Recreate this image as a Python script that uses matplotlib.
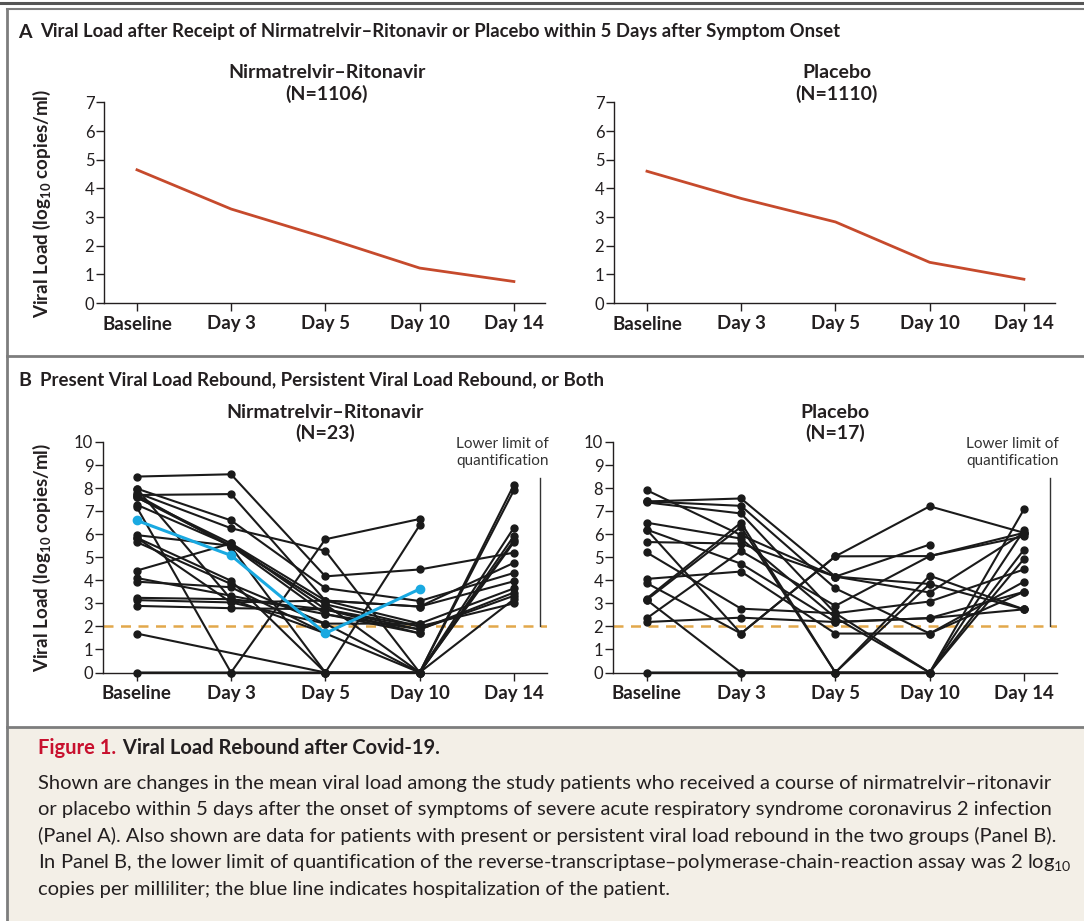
import numpy as np
import matplotlib
matplotlib.use("Agg")
import matplotlib.pyplot as plt
from matplotlib.lines import Line2D
from matplotlib.patches import Rectangle

plt.rcParams['font.family'] = ['Lato', 'DejaVu Sans']
plt.rcParams['mathtext.fontset'] = 'custom'
plt.rcParams['mathtext.rm'] = 'Lato'
plt.rcParams['mathtext.bf'] = 'Lato:bold'

W, H = 1084, 921

days = ["Baseline", "Day 3", "Day 5", "Day 10", "Day 14"]
nan = np.nan

# panel A: mean viral load
nr_mean = [4.65, 3.28, 2.28, 1.22, 0.75]
pl_mean = [4.6, 3.65, 2.83, 1.42, 0.83]

# panel B: individual patients
nr_patients = [
    [8.5, 8.6, 4.17, 4.47, 5.2],
    [7.7, 7.74, 3.12, 2.86, 4.76],
    [7.98, 6.6, 3.66, 3.1, 4.32],
    [7.8, 6.26, 5.28, 0, 7.91],
    [7.6, 5.6, 2.74, 1.87, 3.33],
    [7.28, 5.5, 2.53, 1.7, nan],
    [7.18, 0, 5.78, 6.66, nan],
    [5.96, 5.5, 2.96, 0, 5.93],
    [5.85, 3.98, 0, 6.39, nan],
    [5.66, 3.84, 2.12, 0, 5.74],
    [7.7, 5.45, 0, 0, 8.15],
    [4.42, 5.6, 3.12, 2.12, 3.65],
    [4.1, 3.33, 2.53, 1.87, 3.47],
    [3.94, 3.7, 1.7, 0, 6.29],
    [3.24, 3.18, 2.74, 2.0, 3.0],
    [3.14, 3.04, 3.12, 2.86, 3.96],
    [2.89, 2.79, 2.74, 1.7, nan],
    [1.69, nan, 0, 0, 3.18],
    [0, 0, 0, 0, 5.66],
    [7.6, 5.5, 2.96, 2.0, nan],
    [7.98, 3.18, 1.7, nan, nan],
    [5.85, 3.04, 2.12, 2.12, nan],
]
nr_hospitalized = [6.6, 5.08, 1.7, 3.62, nan]

pl_patients = [
    [7.91, 5.96, 4.16, 3.84, 2.74],
    [7.42, 7.55, 4.16, 3.47, 6.06],
    [7.42, 7.23, 3.65, 1.69, 3.5],
    [7.38, 6.9, 2.57, 0, 6.17],
    [6.5, 5.81, 2.38, 0, 5.33],
    [6.2, 4.72, 2.19, 2.36, 2.74],
    [6.2, 1.69, 5.04, 7.21, 6.06],
    [5.66, 5.59, 4.16, 5.55, nan],
    [5.21, 2.77, 2.57, 3.08, 4.47],
    [4.06, 4.38, 1.69, 1.69, 3.94],
    [3.88, 1.69, 5.04, 5.05, 6.06],
    [3.21, 6.5, 0, 4.2, 2.74],
    [3.15, 6.32, 0, 0, 4.93],
    [2.35, 5.27, 2.89, 5.05, 5.91],
    [2.19, 2.38, 2.19, 2.36, 3.5],
    [0, 0, 0, 0, 7.08],
    [3.15, 0, 0, 3.84, nan],
]

lloq = 2

RED = "#c64a2c"
BLUE = "#19a9e1"
GOLD = "#e2a84b"
GRAY = "#7d7d7d"
TXT = "#231f20"


def px_axes(fig, left, right, top, bottom):
    return fig.add_axes([left / W, 1 - bottom / H, (right - left) / W, (bottom - top) / H])


def style(ax, ymax, xlim):
    ax.set_xlim(*xlim)
    ax.set_ylim(0, ymax)
    ax.set_xticks(range(len(days)))
    ax.set_xticklabels(days, fontweight='bold', fontsize=13.5, color=TXT)
    ax.set_yticks(range(ymax + 1))
    ax.tick_params(axis='y', labelsize=12, length=6, width=1, colors=TXT, pad=1)
    ax.tick_params(axis='x', length=6, width=1, colors=TXT, pad=3)
    for s in ['top', 'right']:
        ax.spines[s].set_visible(False)
    for s in ['left', 'bottom']:
        ax.spines[s].set_linewidth(1)
        ax.spines[s].set_color(TXT)
    ax.patch.set_alpha(0)


fig = plt.figure(figsize=(W / 100, H / 100), dpi=100)

# frame and caption box
fig.add_artist(Rectangle((7 / W, 0), 1, 1 - 727 / H, transform=fig.transFigure,
                         facecolor="#f3efe7", edgecolor="none", zorder=0))
fig.add_artist(Line2D([0, 1], [1 - 3.5 / H] * 2, color="#555555", lw=2.2))
fig.add_artist(Line2D([7 / W, 1], [1 - 9 / H] * 2, color=GRAY, lw=1.5))
fig.add_artist(Line2D([7 / W, 7 / W], [0, 1 - 9 / H], color=GRAY, lw=2))
for yy in [356, 727]:
    fig.add_artist(Line2D([7 / W, 1], [1 - yy / H] * 2, color=GRAY, lw=2))

# panel headers
fig.text(18 / W, 1 - 32 / H, "A", fontsize=14, fontweight='bold', color=TXT, va='center')
fig.text(40 / W, 1 - 32 / H,
         "Viral Load after Receipt of Nirmatrelvir\u2013Ritonavir or Placebo within 5 Days after Symptom Onset",
         fontsize=13.3, fontweight='bold', color=TXT, va='center')
fig.text(18 / W, 1 - 380 / H, "B", fontsize=14, fontweight='bold', color=TXT, va='center')
fig.text(40 / W, 1 - 380 / H,
         "Present Viral Load Rebound, Persistent Viral Load Rebound, or Both",
         fontsize=13.4, fontweight='bold', color=TXT, va='center')

ylab = r"Viral Load (log$_{\mathbf{10}}$ copies/ml)"
fig.text(42 / W, 1 - 204 / H, ylab, rotation=90, fontsize=13.5, fontweight='bold',
         color=TXT, ha='center', va='center')
fig.text(42 / W, 1 - 558 / H, ylab, rotation=90, fontsize=13.5, fontweight='bold',
         color=TXT, ha='center', va='center')

x = np.arange(len(days))

# Panel A
for left, right, name, n, mean in [(104, 545, "Nirmatrelvir\u2013Ritonavir", 1106, nr_mean),
                                   (614, 1055, "Placebo", 1110, pl_mean)]:
    ax = px_axes(fig, left, right, 102.5, 303)
    style(ax, 7, (-0.35, 4.33))
    ax.plot(x, mean, color=RED, lw=2)
    ax.set_title(f"{name}\n(N={n})", fontsize=14, fontweight='bold', color=TXT,
                 linespacing=1.2, pad=2)
    ax.title.set_position((0.505, 1))

# Panel B
for left, right, name, n, pats, hosp in [(103, 547, "Nirmatrelvir\u2013Ritonavir", 23, nr_patients, nr_hospitalized),
                                         (613, 1057, "Placebo", 17, pl_patients, None)]:
    ax = px_axes(fig, left, right, 442, 672.5)
    style(ax, 10, (-0.357, 4.35))
    ax.axhline(lloq, color=GOLD, lw=1.8, ls=(0, (4, 3)), zorder=1)
    for p in pats:
        p = np.array(p, dtype=float)
        m = ~np.isnan(p)
        ax.plot(x[m], p[m], color="#1a1a1a", lw=1.5, marker='o', ms=5, clip_on=False, zorder=3)
    if hosp is not None:
        h = np.array(hosp, dtype=float)
        m = ~np.isnan(h)
        ax.plot(x[m], h[m], color=BLUE, lw=2.2, marker='o', ms=6, clip_on=False, zorder=4)
    ax.plot([4.28, 4.28], [lloq, 8.45], color="#333333", lw=1, clip_on=False)
    ax.text(4.37, 10.2, "Lower limit of\nquantification", ha='right', va='top',
            fontsize=11, color="#333333", linespacing=1.25, clip_on=False)
    ax.set_title(f"{name}\n(N={n})", fontsize=14, fontweight='bold', color=TXT,
                 linespacing=1.2, pad=2)
    ax.title.set_position((0.5, 1))

# caption
t = fig.text(38 / W, 1 - 748 / H, "Figure 1.", fontsize=14.5, fontweight='bold',
             color="#c8102e", va='center')
t2 = fig.text(0, 1 - 748 / H, " Viral Load Rebound after Covid-19.", fontsize=14.5,
              fontweight='bold', color=TXT, va='center', ha='left')
cap_lines = [
    "Shown are changes in the mean viral load among the study patients who received a course of nirmatrelvir\u2013ritonavir",
    "or placebo within 5 days after the onset of symptoms of severe acute respiratory syndrome coronavirus 2 infection",
    "(Panel A). Also shown are data for patients with present or persistent viral load rebound in the two groups (Panel B).",
    "In Panel B, the lower limit of quantification of the reverse-transcriptase\u2013polymerase-chain-reaction assay was 2 log$_{10}$",
    "copies per milliliter; the blue line indicates hospitalization of the patient.",
]
for i, line in enumerate(cap_lines):
    fig.text(38 / W, 1 - (783 + 26.7 * i) / H, line, fontsize=14.5, color=TXT, va='center')

# place the bold caption title right after "Figure 1."
fig.canvas.draw()
bb = t.get_window_extent()
t2.set_position(((bb.x1 + 2) / W, 1 - 748 / H))

fig.savefig("out.png", dpi=100)
